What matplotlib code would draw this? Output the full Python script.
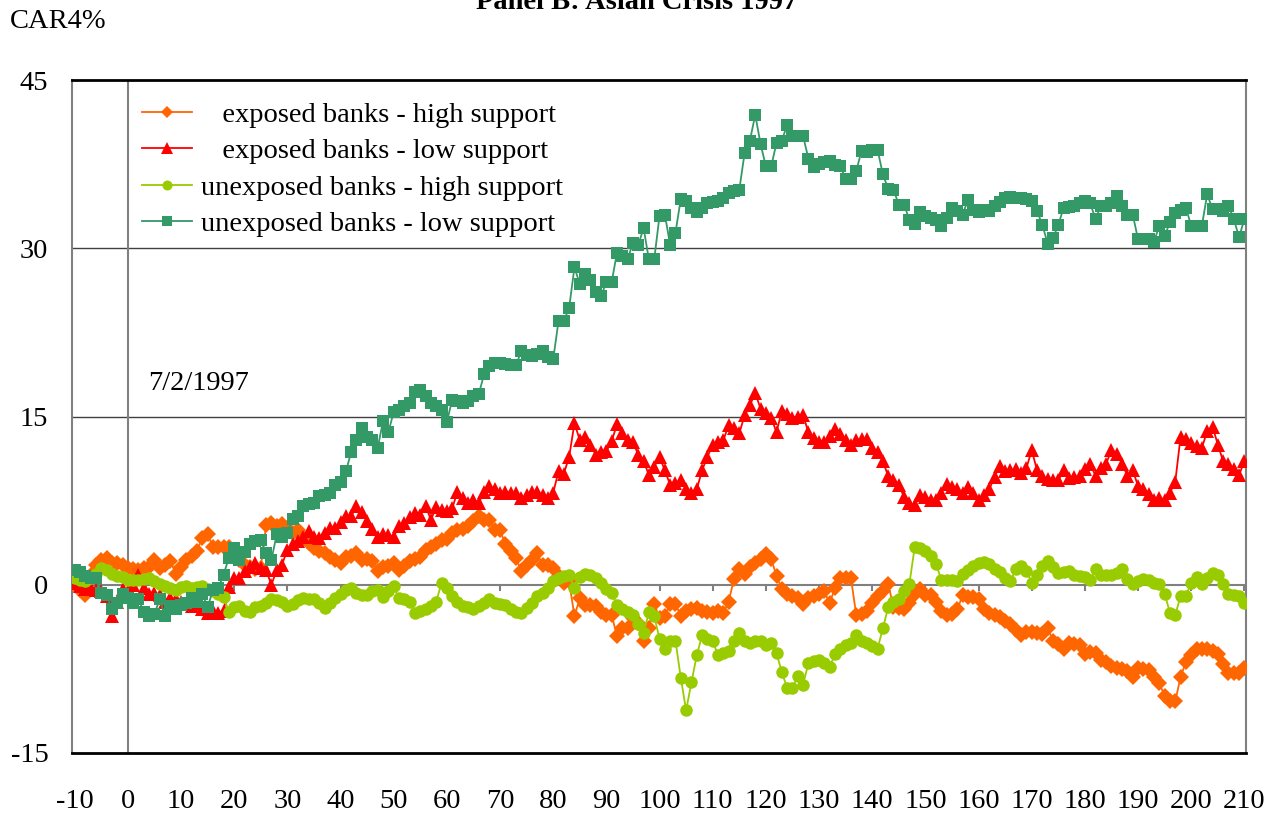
import matplotlib
matplotlib.use("Agg")
import matplotlib.pyplot as plt

plt.rcParams['font.family'] = ['Liberation Serif', 'DejaVu Serif']
plt.rcParams['axes.unicode_minus'] = False

days = list(range(-10, 211))

# exposed banks - high support
exp_high = [
    0.0, -0.5, -0.9, 0.9, 1.8, 2.2, 2.4, 1.9, 1.9, 1.8,
    1.5, 1.4, 1.3, 1.5, 1.6, 2.2, 1.5, 1.8, 2.1, 1.0,
    1.6, 2.2, 2.6, 3.0, 4.2, 4.5, 3.4, 3.4, 3.4, 3.4,
    2.8, 2.2, 1.8, 1.6, 1.4, 1.5, 5.3, 5.5, 5.2, 5.4,
    5.1, 4.6, 4.9, 4.3, 3.7, 3.3, 3.0, 2.8, 2.5, 2.2,
    1.9, 2.5, 2.6, 2.8, 2.2, 2.3, 2.1, 1.2, 1.6, 1.7,
    1.9, 1.3, 1.7, 2.1, 2.3, 2.5, 3.1, 3.4, 3.6, 4.0,
    4.1, 4.6, 4.9, 5.0, 5.2, 5.65, 6.1, 5.8, 5.8, 4.9,
    4.9, 3.6, 3.0, 2.4, 1.2, 1.8, 2.2, 2.8, 1.8, 1.8,
    1.5, 0.8, 0.2, 0.3, -2.8, -1.2, -1.8, -1.8, -1.9, -2.4,
    -2.7, -2.7, -4.6, -3.9, -3.9, -3.0, -3.4, -5.0, -3.9, -1.7,
    -3.0, -2.8, -1.7, -1.7, -2.8, -2.3, -2.2, -2.1, -2.3, -2.4,
    -2.5, -2.3, -2.5, -1.5, 0.5, 1.4, 1.0, 1.6, 1.9, 2.3,
    2.7, 2.3, 0.8, -0.4, -0.8, -1.0, -1.2, -1.7, -1.2, -1.0,
    -0.8, -0.6, -1.65, -0.25, 0.6, 0.6, 0.6, -2.7, -2.6, -2.35,
    -1.65, -1.0, -0.6, 0.1, -2.0, -2.1, -2.2, -1.65, -0.8, -0.4,
    -0.9, -0.95, -1.5, -2.35, -2.7, -2.6, -2.2, -0.95, -1.1, -1.1,
    -1.3, -2.2, -2.5, -2.7, -2.9, -3.2, -3.5, -4.0, -4.5, -4.2,
    -4.2, -4.3, -4.4, -3.85, -5.0, -5.3, -5.7, -5.2, -5.3, -5.4,
    -6.2, -6.0, -6.05, -6.7, -6.9, -7.2, -7.4, -7.5, -7.7, -8.2,
    -7.4, -7.5, -7.6, -8.2, -8.8, -9.9, -10.4, -10.4, -8.2, -6.9,
    -6.3, -5.7, -5.7, -5.7, -5.9, -6.2, -7.05, -7.9, -7.9, -7.9,
    -7.4,
]

# exposed banks - low support
exp_low = [
    0.2, -0.1, -0.4, -0.3, -0.5, -0.6, -1.0, -2.8, -1.5, -0.4,
    -0.6, 0.0, 0.9, -0.3, -0.8, -0.7, -0.9, -1.5, -1.2, -1.3,
    -1.5, -1.7, -1.9, -1.6, -2.2, -2.5, -2.3, -2.5, -2.3, -0.2,
    0.6, 0.6, 1.2, 1.6, 1.9, 1.5, 1.3, 0.0, 1.3, 1.8,
    3.1, 3.6, 3.9, 4.3, 4.8, 4.3, 4.2, 4.6, 5.1, 5.1,
    5.6, 6.1, 6.1, 7.0, 6.5, 5.7, 5.0, 4.3, 4.5, 4.4,
    4.3, 5.2, 5.5, 6.0, 6.4, 6.2, 7.0, 5.8, 6.9, 6.7,
    6.6, 6.8, 8.3, 7.7, 7.3, 7.6, 7.3, 8.3, 8.8, 8.5,
    8.2, 8.3, 8.2, 8.2, 7.7, 8.0, 8.3, 8.3, 8.0, 7.7,
    8.2, 10.1, 9.9, 11.4, 14.4, 12.9, 13.2, 12.5, 11.6, 11.8,
    11.9, 12.8, 14.3, 13.5, 12.9, 12.7, 11.6, 11.0, 9.8, 10.5,
    11.4, 10.2, 8.9, 9.1, 9.3, 8.5, 8.2, 8.5, 10.2, 11.4,
    12.5, 12.7, 12.9, 14.2, 14.0, 13.5, 15.1, 16.0, 17.1, 15.7,
    15.3, 14.9, 13.6, 15.5, 15.2, 14.9, 15.0, 15.1, 13.6, 13.1,
    12.7, 12.7, 13.3, 13.9, 13.4, 12.9, 12.5, 12.9, 13.0, 13.0,
    12.2, 11.8, 11.0, 9.7, 9.3, 8.9, 7.8, 7.3, 7.1, 8.0,
    7.8, 7.6, 7.6, 8.2, 9.0, 8.7, 8.5, 8.2, 8.7, 8.2,
    7.6, 8.0, 8.5, 9.6, 10.6, 10.1, 10.2, 10.3, 10.0, 10.4,
    12.0, 10.2, 9.7, 9.4, 9.3, 9.3, 10.2, 9.5, 9.6, 9.7,
    10.3, 10.8, 9.7, 10.4, 10.8, 12.0, 11.7, 10.8, 9.7, 10.2,
    8.8, 8.5, 8.1, 7.6, 7.7, 7.6, 8.2, 9.2, 13.2, 13.0,
    12.6, 12.4, 12.2, 13.7, 14.1, 12.5, 11.0, 10.8, 10.3, 9.8,
    11.0,
]

# unexposed banks - high support
unexp_high = [
    0.6, 0.4, 0.3, 0.6, 1.0, 1.5, 1.3, 1.0, 0.8, 0.7,
    0.45, 0.4, 0.45, 0.5, 0.6, 0.3, 0.1, -0.15, -0.3, -0.45,
    -0.2, -0.15, -0.3, -0.2, -0.15, -0.4, -0.6, -0.8, -1.05, -2.4,
    -2.0, -1.9, -2.3, -2.4, -2.0, -1.9, -1.6, -1.3, -1.4, -1.5,
    -1.9, -1.7, -1.4, -1.2, -1.3, -1.3, -1.6, -2.1, -1.6, -1.2,
    -0.8, -0.45, -0.3, -0.7, -0.9, -0.9, -0.6, -0.45, -1.05, -0.6,
    -0.15, -1.2, -1.3, -1.5, -2.5, -2.3, -2.2, -1.9, -1.5, 0.15,
    -0.3, -1.0, -1.5, -1.9, -2.0, -2.2, -1.9, -1.6, -1.3, -1.6,
    -1.7, -1.8, -2.2, -2.4, -2.5, -2.1, -1.6, -1.0, -0.75, -0.3,
    0.3, 0.6, 0.8, 0.9, -0.3, 0.7, 1.0, 0.9, 0.6, 0.15,
    -0.4, -0.75, -1.8, -2.2, -2.45, -2.7, -3.5, -4.3, -2.45, -2.8,
    -4.8, -5.7, -5.0, -5.0, -8.3, -11.2, -8.7, -6.3, -4.5, -4.8,
    -5.0, -6.3, -6.1, -5.9, -5.0, -4.3, -5.0, -5.2, -5.0, -5.0,
    -5.4, -5.2, -6.1, -7.8, -9.2, -9.2, -8.1, -8.9, -7.0, -6.8,
    -6.7, -7.0, -7.3, -6.2, -5.7, -5.4, -5.2, -4.5, -5.0, -5.2,
    -5.5, -5.7, -3.9, -2.0, -1.5, -1.3, -0.6, 0.1, 3.4, 3.3,
    3.0, 2.6, 1.85, 0.45, 0.45, 0.4, 0.3, 1.0, 1.3, 1.7,
    1.9, 2.0, 1.85, 1.4, 1.1, 0.6, 0.3, 1.4, 1.7, 1.2,
    0.2, 0.9, 1.7, 2.1, 1.6, 1.05, 1.1, 1.2, 0.9, 0.8,
    0.7, 0.4, 1.4, 0.9, 0.9, 0.9, 1.05, 1.4, 0.5, 0.03,
    0.3, 0.5, 0.4, 0.2, 0.03, -0.8, -2.5, -2.7, -1.0, -1.0,
    0.2, 0.7, 0.03, 0.6, 1.05, 0.9, 0.03, -0.8, -0.9, -1.0,
    -1.65,
]

# unexposed banks - low support
unexp_low = [
    1.3, 1.1, 0.8, 0.6, 0.6, -0.7, -0.9, -2.2, -1.6, -0.8,
    -1.2, -1.6, -1.3, -2.4, -2.8, -2.6, -1.3, -2.8, -1.9, -2.2,
    -1.8, -1.6, -1.2, -1.5, -0.8, -2.0, -0.5, -0.3, 0.9, 2.4,
    3.3, 2.2, 2.9, 3.6, 3.9, 4.0, 2.8, 2.2, 4.5, 4.3,
    4.6, 5.9, 6.1, 7.0, 7.2, 7.3, 7.9, 8.0, 8.2, 8.9,
    9.2, 10.1, 11.8, 12.9, 14.0, 13.2, 12.9, 12.2, 14.6, 13.6,
    15.4, 15.6, 15.9, 16.2, 17.2, 17.4, 16.8, 16.2, 15.9, 15.6,
    14.5, 16.5, 16.4, 16.2, 16.4, 16.8, 17.0, 18.75, 19.5, 19.8,
    19.8, 19.7, 19.6, 19.6, 20.8, 20.5, 20.4, 20.6, 20.8, 20.3,
    20.1, 23.5, 23.5, 24.7, 28.3, 26.8, 27.7, 27.2, 26.1, 25.7,
    27.0, 27.0, 29.6, 29.3, 29.0, 30.5, 30.3, 31.8, 29.0, 29.0,
    32.9, 33.0, 30.3, 31.4, 34.4, 34.2, 33.6, 33.2, 33.6, 34.0,
    34.1, 34.2, 34.5, 34.9, 35.1, 35.2, 38.5, 39.6, 41.9, 39.3,
    37.3, 37.3, 39.4, 39.6, 41.0, 40.0, 40.0, 40.0, 38.0, 37.2,
    37.5, 37.7, 37.8, 37.4, 37.3, 36.2, 36.2, 36.9, 38.7, 38.6,
    38.8, 38.8, 36.6, 35.3, 35.2, 33.9, 33.9, 32.5, 32.2, 33.2,
    32.9, 32.7, 32.5, 32.0, 32.7, 33.6, 33.3, 33.0, 34.3, 33.4,
    33.2, 33.4, 33.3, 33.75, 34.1, 34.45, 34.6, 34.5, 34.5, 34.4,
    34.2, 33.3, 32.1, 30.4, 30.9, 32.1, 33.6, 33.7, 33.8, 34.0,
    34.2, 34.0, 32.6, 33.8, 33.8, 34.0, 34.7, 33.8, 33.0, 33.0,
    30.8, 30.8, 30.8, 30.6, 32.0, 31.1, 32.3, 33.1, 33.4, 33.6,
    32.0, 32.0, 32.0, 34.8, 33.5, 33.5, 33.3, 33.8, 32.6, 31.0,
    32.6,
]

labels = ["   exposed banks - high support", "   exposed banks - low support",
          "unexposed banks - high support", "unexposed banks - low support"]
colors = ["#FF6600", "#FF0000", "#99CC00", "#339966"]
markers = ["D", "^", "o", "s"]
msizes = [8, 10, 9, 8.5]

fs = 20.5

fig = plt.figure(figsize=(12.81, 8.18), dpi=100)
ax = fig.add_axes([72/1281, 1 - 753/818, (1246 - 72)/1281, (753 - 80)/818])

for ys, lab, c, m, ms in zip([exp_high, exp_low, unexp_high, unexp_low],
                             labels, colors, markers, msizes):
    ax.plot(days, ys, color=c, marker=m, markersize=ms, markeredgewidth=0,
            linewidth=1.3, label=lab, zorder=3)

ax.set_xlim(-10.5, 210.3)
ax.set_ylim(-15, 45)
ax.set_xticks(range(-10, 211, 10))
ax.set_yticks([-15, 0, 15, 30, 45])
ax.tick_params(axis='x', length=0, pad=26, labelsize=fs)
ax.tick_params(axis='y', length=0, pad=17, labelsize=fs)

# grid and reference lines
for yv in [15, 30]:
    ax.axhline(yv, color='#404040', linewidth=1.0, zorder=1)
ax.axhline(0, color='#808080', linewidth=1.5, zorder=1)
ax.axvline(0, color='#808080', linewidth=1.5, zorder=1)
ax.vlines(range(-10, 211, 10), -0.6, 0, color='#808080', linewidth=1.5, zorder=1)

for side in ['left', 'right']:
    ax.spines[side].set_color('#808080')
    ax.spines[side].set_linewidth(1.5)
for side in ['top', 'bottom']:
    ax.spines[side].set_color('black')
    ax.spines[side].set_linewidth(2)

ax.text(3.8, 17.9, "7/2/1997", fontsize=fs, ha='left', va='center')
fig.text(10/1281, 1 - 22/818, "CAR4%", fontsize=fs, ha='left', va='center')
fig.text(637/1281, 1 - 9/818, "Panel B: Asian Crisis 1997", fontsize=fs,
         fontweight='bold', ha='center', va='baseline')

leg = ax.legend(loc='upper left', bbox_to_anchor=(142/1281, 1 - 102/818),
                bbox_transform=fig.transFigure, frameon=False, fontsize=fs,
                handlelength=1.75, handletextpad=0.32, labelspacing=0.37,
                borderpad=0, borderaxespad=0, markerscale=0.8)

fig.savefig("out.png", dpi=100)
